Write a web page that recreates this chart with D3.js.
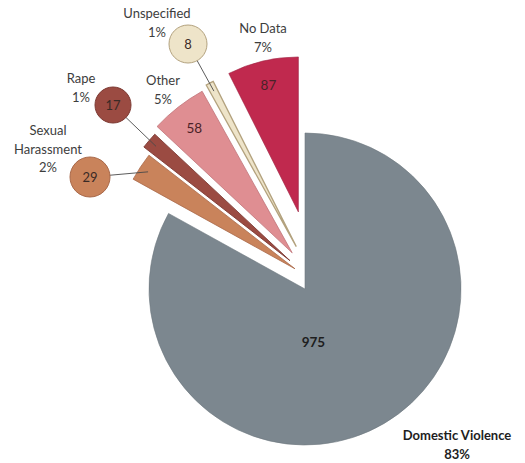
<!DOCTYPE html>
<html>
<head>
<meta charset="utf-8">
<script src="https://cdn.jsdelivr.net/npm/d3@7"></script>
<style>
  html, body { margin: 0; padding: 0; background: #ffffff; }
  svg text { font-family: Lato, "Open Sans", sans-serif; fill: #3a3a3a; }
</style>
</head>
<body>
<svg id="chart" width="525" height="463"></svg>
<script>
// Case counts by category, in clockwise order from 12 o'clock
const categories = ["Domestic Violence", "Sexual Harassment", "Rape", "Other", "Unspecified", "No Data"];
const counts = [975, 29, 17, 58, 8, 87];
const colors = ["#7c878f", "#c9835b", "#9b4b42", "#df8e92", "#eee4c9", "#c0294e"];
const strokes = ["#6f7980", "#a9694a", "#7d3a33", "#c07478", "#b3a27e", "#9e2141"];
const strokeWidths = [0.6, 0.8, 0.9, 0.8, 1.3, 0.6];

// Layout: the main slice sits at pieCenter; the smaller slices fan out from burstCenter
const pieCenter = [305, 289];
const burstCenter = [315, 282];
const explode = { "Sexual Harassment": 24, "Rape": 33, "Other": 37, "Unspecified": 40, "No Data": 72 };
const outerR = { "Domestic Violence": 156, "Sexual Harassment": 185, "Rape": 185, "Other": 185, "Unspecified": 185, "No Data": 155 };

// Category labels (lines stacked under the anchor) and value placement
const labelLayout = {
  "Domestic Violence": { x: 457, y: 440, lines: ["Domestic Violence"], bold: true },
  "Sexual Harassment": { x: 48, y: 135, lines: ["Sexual", "Harassment"] },
  "Rape": { x: 81, y: 83, lines: ["Rape"] },
  "Other": { x: 163, y: 85, lines: ["Other"] },
  "Unspecified": { x: 157, y: 18, lines: ["Unspecified"] },
  "No Data": { x: 263, y: 33, lines: ["No Data"] }
};
// Callout bubbles for the thin slices
const bubbles = {
  "Sexual Harassment": { x: 90, y: 177, r: 20 },
  "Rape": { x: 113, y: 105, r: 18 },
  "Unspecified": { x: 188, y: 44, r: 19 }
};

const total = d3.sum(counts);
const data = categories.map((c, i) => ({
  category: c, count: counts[i], color: colors[i], stroke: strokes[i], sw: strokeWidths[i]
}));

const pie = d3.pie().sort(null).value(d => d.count).startAngle(0).endAngle(2 * Math.PI);
const arcs = pie(data);

const svg = d3.select("#chart");
const dir = a => [Math.sin(a), -Math.cos(a)];

// Position of each slice's apex
function apex(d) {
  const name = d.data.category;
  if (!(name in explode)) return pieCenter;
  const mid = (d.startAngle + d.endAngle) / 2;
  const [ux, uy] = dir(mid);
  return [burstCenter[0] + ux * explode[name], burstCenter[1] + uy * explode[name]];
}

const slices = svg.append("g").selectAll("g.slice")
  .data(arcs).join("g")
  .attr("class", "slice")
  .attr("transform", d => `translate(${apex(d)})`);

slices.append("path")
  .attr("d", d => d3.arc().innerRadius(0).outerRadius(outerR[d.data.category])(d))
  .attr("fill", d => d.data.color)
  .attr("stroke", d => d.data.stroke)
  .attr("stroke-width", d => d.data.sw)
  .attr("stroke-linejoin", "miter");

// Leader lines from bubbles into their slices
const leaders = svg.append("g");
arcs.filter(d => d.data.category in bubbles).forEach(d => {
  const b = bubbles[d.data.category];
  const mid = (d.startAngle + d.endAngle) / 2;
  const [ux, uy] = dir(mid);
  const [ax, ay] = apex(d);
  const rr = outerR[d.data.category] - 9;
  leaders.append("line")
    .attr("x1", b.x).attr("y1", b.y)
    .attr("x2", ax + ux * rr).attr("y2", ay + uy * rr)
    .attr("stroke", "#4a4a4a").attr("stroke-width", 0.9);
});

const bubbleG = svg.append("g");
arcs.filter(d => d.data.category in bubbles).forEach(d => {
  const b = bubbles[d.data.category];
  bubbleG.append("circle")
    .attr("cx", b.x).attr("cy", b.y).attr("r", b.r)
    .attr("fill", d.data.color).attr("stroke", d.data.stroke).attr("stroke-width", 1);
  bubbleG.append("text")
    .attr("x", b.x).attr("y", b.y)
    .attr("text-anchor", "middle").attr("dominant-baseline", "central")
    .attr("font-size", 13)
    .style("fill", "#3a2a26")
    .text(d.data.count);
});

// Values inside the wide slices
const valueLayout = {
  "Domestic Violence": { angle: 171 * Math.PI / 180, r: 54, bold: true },
  "Other": { r: 159 },
  "No Data": { r: 130 }
};
arcs.filter(d => d.data.category in valueLayout).forEach(d => {
  const v = valueLayout[d.data.category];
  const a = v.angle !== undefined ? v.angle : (d.startAngle + d.endAngle) / 2;
  const [ux, uy] = dir(a);
  const [ax, ay] = apex(d);
  svg.append("text")
    .attr("x", ax + ux * v.r).attr("y", ay + uy * v.r)
    .attr("text-anchor", "middle").attr("dominant-baseline", "central")
    .attr("font-size", 13.5)
    .attr("font-weight", v.bold ? 700 : 400)
    .style("fill", v.bold ? "#1e1e1e" : "#4a2228")
    .text(d.data.count);
});

// Category names with their share of the total
const pct = d3.format(".0%");
arcs.forEach(d => {
  const L = labelLayout[d.data.category];
  const lines = L.lines.concat([pct(Math.round(d.data.count / total * 100) / 100)]);
  const t = svg.append("text")
    .attr("text-anchor", "middle")
    .attr("font-size", 13)
    .attr("font-weight", L.bold ? 700 : 400)
    .style("fill", L.bold ? "#1e1e1e" : "#3d3d3d");
  lines.forEach((s, i) => {
    t.append("tspan").attr("x", L.x).attr("y", L.y + i * 18.5).text(s);
  });
});
</script>
</body>
</html>
